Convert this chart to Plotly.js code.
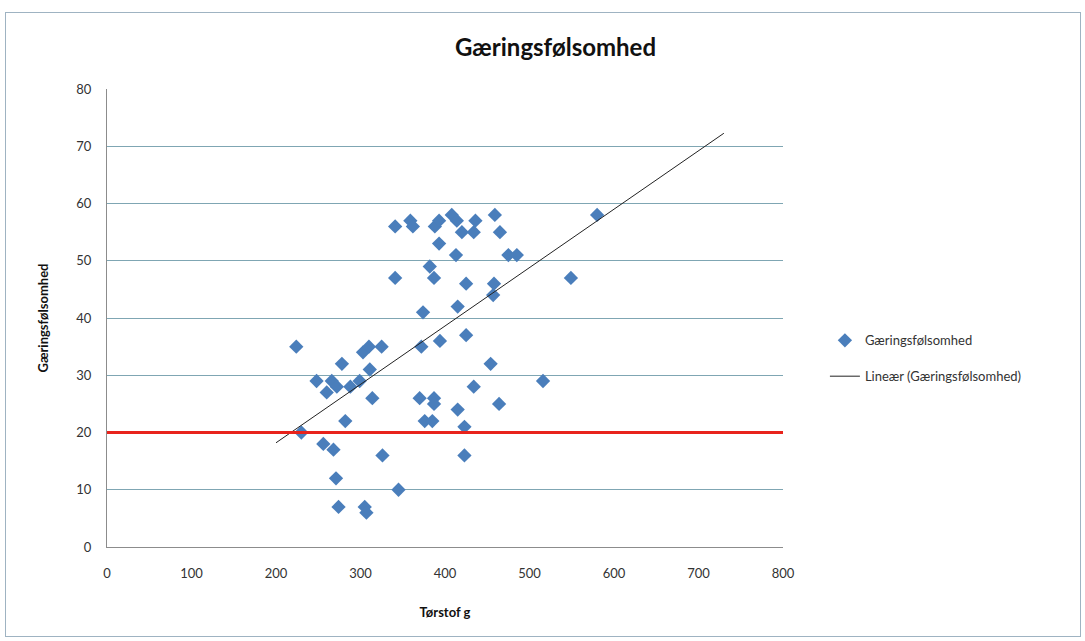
<!DOCTYPE html>
<html>
<head>
<meta charset="utf-8">
<script src="https://cdn.plot.ly/plotly-3.0.1.min.js"></script>
<style>
html,body{margin:0;padding:0;background:#fff;}
#wrap{position:relative;width:1085px;height:641px;}
#chart{width:1085px;height:641px;}
#frame{position:absolute;left:5px;top:12px;width:1074px;height:623px;border:1px solid #9fb3c2;pointer-events:none;}
</style>
</head>
<body>
<div id="wrap"><div id="chart"></div><div id="frame"></div></div>
<script>
const xVals = [224,230,248,256,260,266,268,271,272,274,278,282,288,299,303,305,307,310,311,314,325,326,341,341,345,359,362,370,372,374,376,382,385,387,387,387,388,393,393,394,408,413,414,415,415,420,423,423,425,425,434,434,436,454,457,458,459,464,465,475,485,516,549,580];
const yVals = [35,20,29,18,27,29,17,12,28,7,32,22,28,29,34,7,6,35,31,26,35,16,56,47,10,57,56,26,35,41,22,49,22,26,25,47,56,57,53,36,58,51,57,42,24,55,21,16,46,37,55,28,57,32,44,46,58,25,55,51,51,29,47,58];
const trendRange = [200, 730];
const thresholdY = 20;
const seriesName = "Gæringsfølsomhed";
const trendName = "Lineær (Gæringsfølsomhed)";

// least-squares linear fit
const n = xVals.length;
let sx=0, sy=0, sxx=0, sxy=0;
for (let i=0;i<n;i++){ sx+=xVals[i]; sy+=yVals[i]; sxx+=xVals[i]*xVals[i]; sxy+=xVals[i]*yVals[i]; }
const slope = (n*sxy - sx*sy)/(n*sxx - sx*sx);
const intercept = (sy - slope*sx)/n;
const trendY = trendRange.map(x => intercept + slope*x);

const font = "Lato, 'Liberation Sans', sans-serif";
const data = [
  {x: xVals, y: yVals, type:'scatter', mode:'markers', name: seriesName, legendgroup:'a',
   marker:{symbol:'diamond', size:11, color:'#4a7ebb'}},
  {x: trendRange, y: trendY, type:'scatter', mode:'lines', name: trendName, legendgroup:'b',
   line:{color:'#222', width:1}}
];
const layout = {
  width:1085, height:641,
  margin:{l:107, r:302, t:89, b:94},
  paper_bgcolor:'rgba(0,0,0,0)', plot_bgcolor:'#fff',
  font:{family:font, size:12, color:'#333'},
  title:{text:'Gæringsfølsomhed', font:{family:font, size:24, color:'#111', weight:'bold'}, x:0.512, xanchor:'center', y:0.925, yanchor:'middle'},
  xaxis:{range:[0,800], dtick:100, showgrid:false, zeroline:false, showline:true, linecolor:'#8c8c8c', linewidth:1,
    ticks:'', ticklabelstandoff:14, tickfont:{size:13, color:'#333'},
    title:{text:'Tørstof g', font:{size:13, color:'#111', weight:'bold'}, standoff:28}},
  yaxis:{range:[0,80], dtick:10, showgrid:true, gridcolor:'#7fa6b3', gridwidth:1, zeroline:false, showline:true, linecolor:'#8c8c8c', linewidth:1,
    ticks:'', ticklabelstandoff:12, tickfont:{size:13, color:'#333'},
    title:{text:'Gæringsfølsomhed', font:{size:13, color:'#111', weight:'bold'}, standoff:24}},
  showlegend:true,
  legend:{x:1.062, xanchor:'left', y:0.484, yanchor:'top', traceorder:'grouped', tracegroupgap:16,
    font:{size:13, color:'#333'}, bgcolor:'rgba(0,0,0,0)'},
  shapes:[{type:'line', xref:'paper', x0:0, x1:1, yref:'y', y0:thresholdY, y1:thresholdY, line:{color:'#e8231c', width:3}}]
};
Plotly.newPlot('chart', data, layout, {displayModeBar:false, staticPlot:true});
</script>
</body>
</html>
